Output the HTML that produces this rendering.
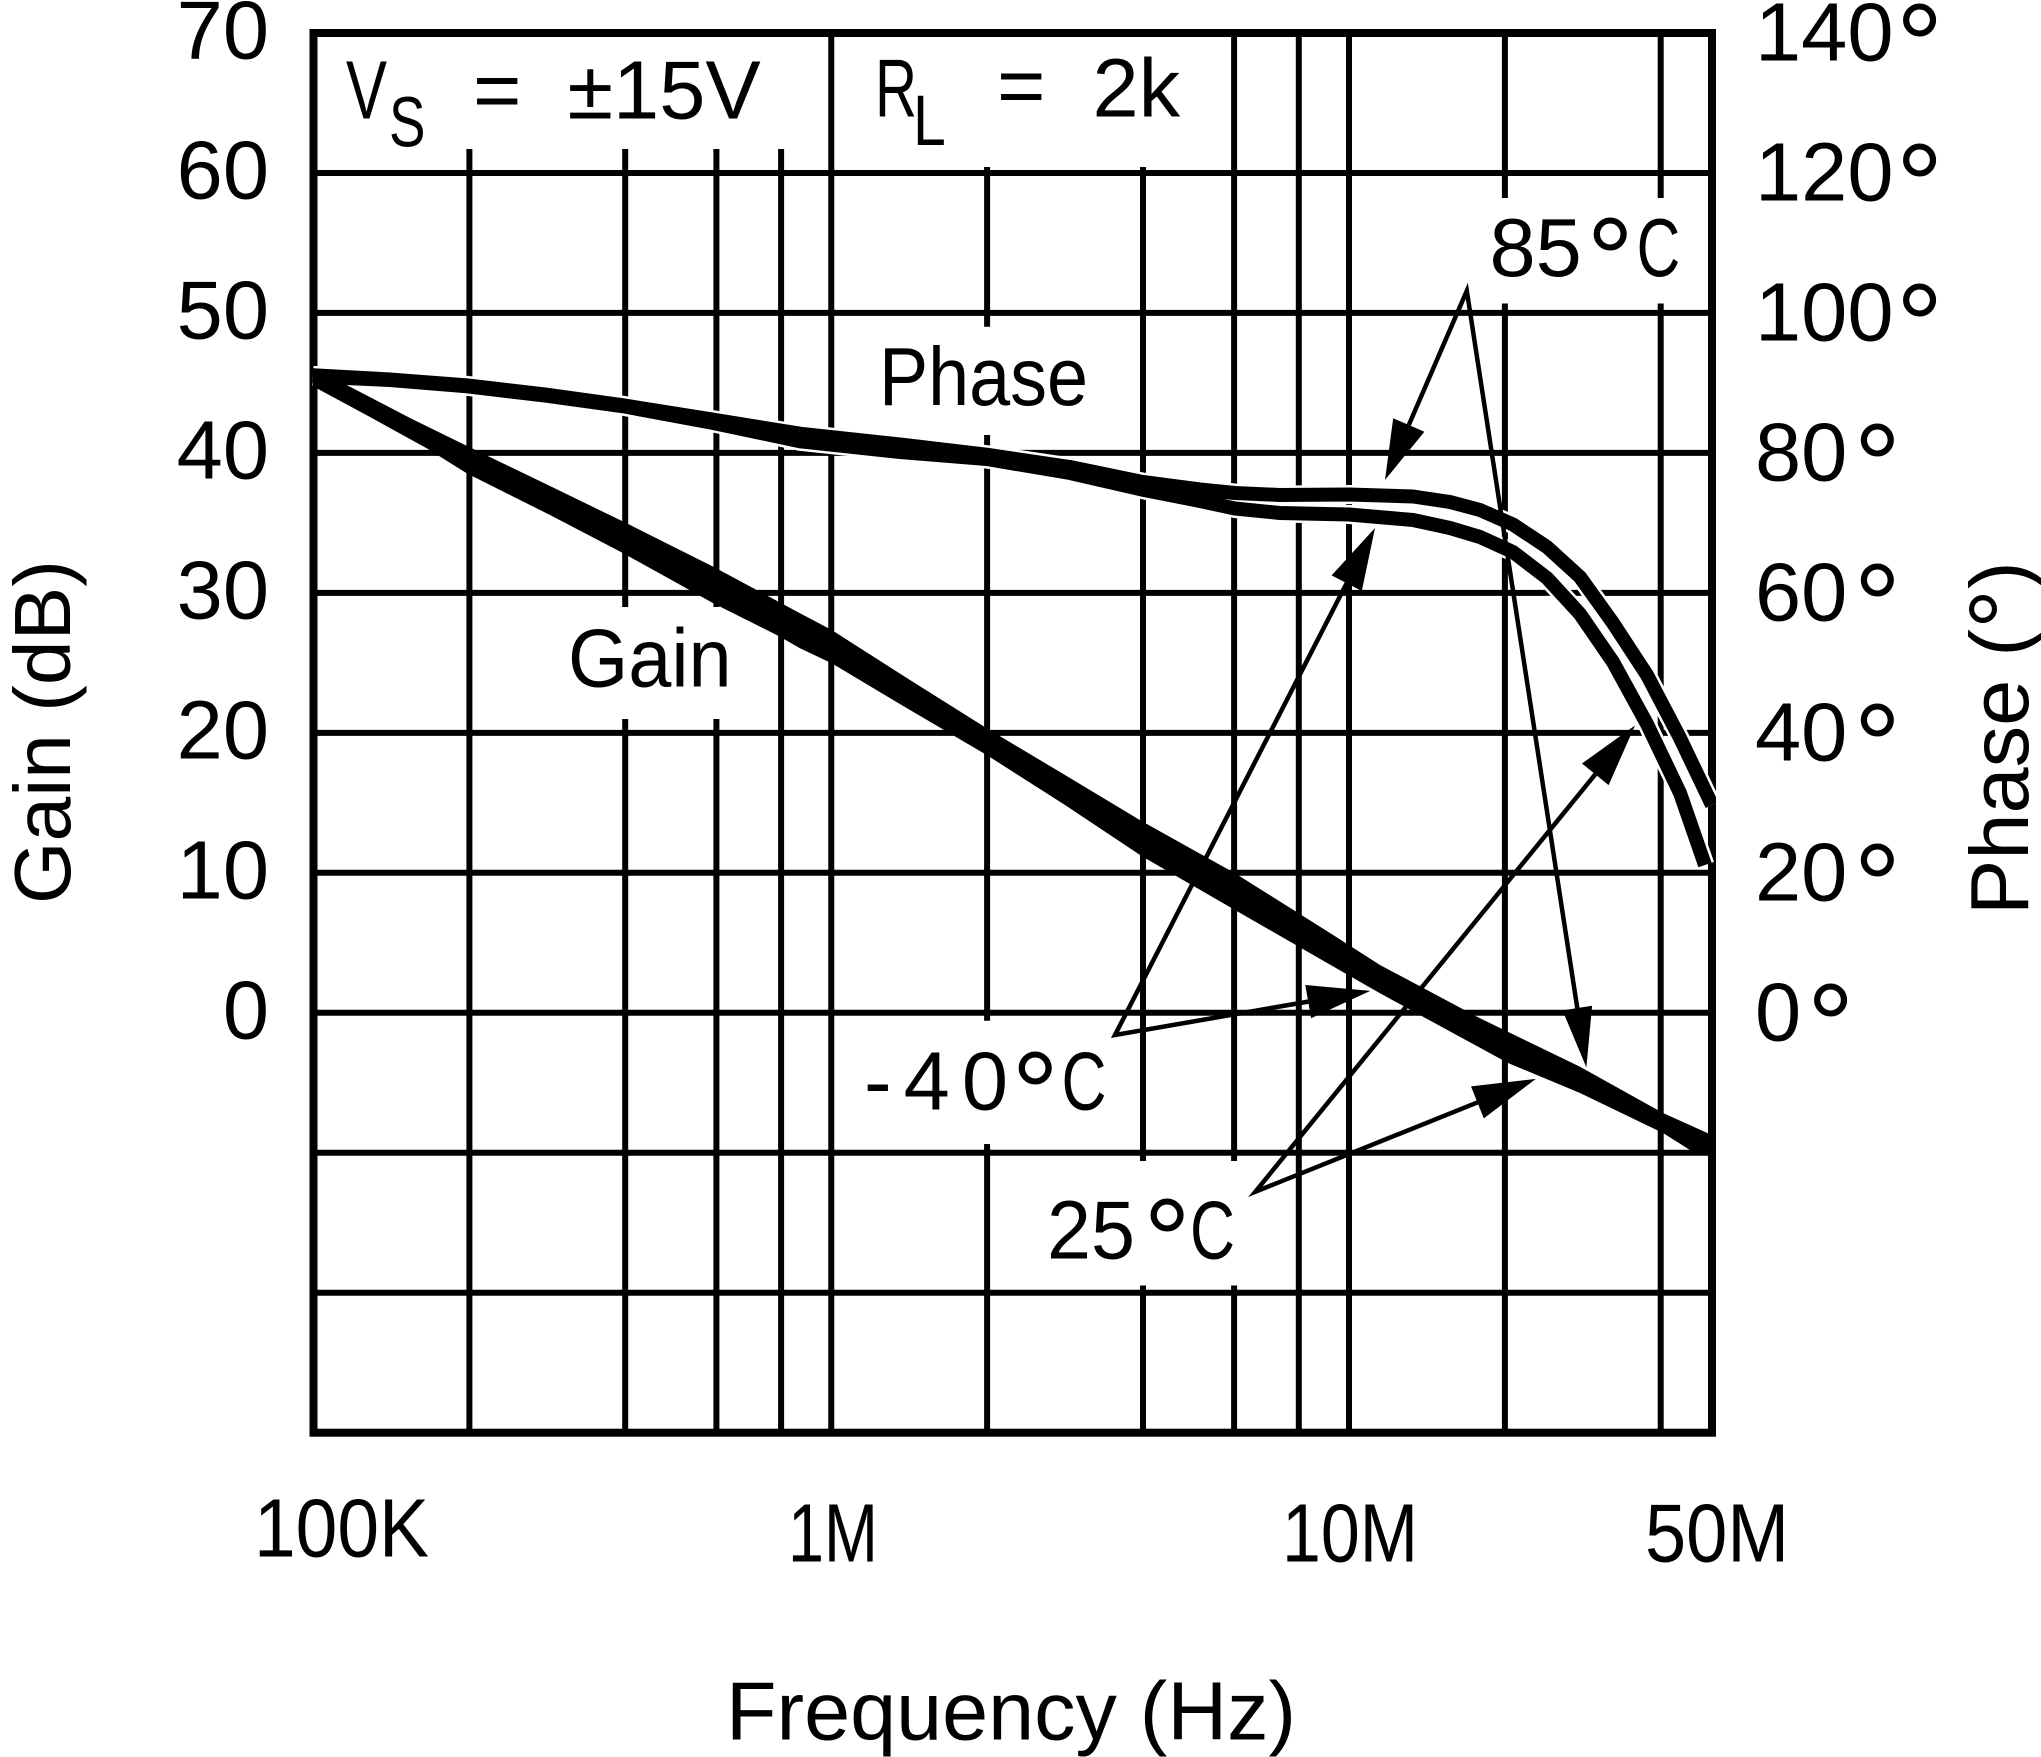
<!DOCTYPE html>
<html>
<head>
<meta charset="utf-8">
<style>
html,body{margin:0;padding:0;background:#fff;}
svg{display:block;}
text{font-family:"Liberation Sans",Arial,sans-serif;fill:#000;font-size:83px;}
</style>
</head>
<body>
<svg width="2041" height="1757" viewBox="0 0 2041 1757">
<rect x="0" y="0" width="2041" height="1757" fill="#fff"/>
<defs>
<clipPath id="plot"><rect x="310" y="29" width="1406" height="1408"/></clipPath>
</defs>

<!-- grid -->
<g stroke="#000" stroke-width="6" fill="none">
<line x1="313.5" x2="1712" y1="173" y2="173"/>
<line x1="313.5" x2="1712" y1="312.9" y2="312.9"/>
<line x1="313.5" x2="1712" y1="452.9" y2="452.9"/>
<line x1="313.5" x2="1712" y1="592.9" y2="592.9"/>
<line x1="313.5" x2="1712" y1="732.9" y2="732.9"/>
<line x1="313.5" x2="1712" y1="872.8" y2="872.8"/>
<line x1="313.5" x2="1712" y1="1012.8" y2="1012.8"/>
<line x1="313.5" x2="1712" y1="1152.8" y2="1152.8"/>
<line x1="313.5" x2="1712" y1="1292.7" y2="1292.7"/>

<line x1="469.4" x2="469.4" y1="149" y2="1433"/>
<line x1="625.2" x2="625.2" y1="149" y2="607"/>
<line x1="625.2" x2="625.2" y1="719" y2="1433"/>
<line x1="716.4" x2="716.4" y1="149" y2="607"/>
<line x1="716.4" x2="716.4" y1="719" y2="1433"/>
<line x1="781.1" x2="781.1" y1="149" y2="1433"/>
<line x1="831.25" x2="831.25" y1="33" y2="1433"/>
<line x1="987.1" x2="987.1" y1="167" y2="326.7"/>
<line x1="987.1" x2="987.1" y1="435" y2="1020.7"/>
<line x1="987.1" x2="987.1" y1="1144" y2="1433"/>
<line x1="1143" x2="1143" y1="167" y2="1161"/>
<line x1="1143" x2="1143" y1="1285.5" y2="1433"/>
<line x1="1234.1" x2="1234.1" y1="33" y2="1161"/>
<line x1="1234.1" x2="1234.1" y1="1285.5" y2="1433"/>
<line x1="1298.8" x2="1298.8" y1="33" y2="1433"/>
<line x1="1349" x2="1349" y1="33" y2="1433"/>
<line x1="1504.9" x2="1504.9" y1="33" y2="198"/>
<line x1="1504.9" x2="1504.9" y1="303.5" y2="1433"/>
<line x1="1660.7" x2="1660.7" y1="33" y2="198"/>
<line x1="1660.7" x2="1660.7" y1="303.5" y2="1433"/>
</g>
<rect x="313.5" y="33" width="1398.5" height="1399.7" fill="none" stroke="#000" stroke-width="8"/>

<!-- curves -->
<g clip-path="url(#plot)">
<g fill="none" stroke="#fff" stroke-width="19" stroke-linejoin="round">
<polyline points="313,375.3 390,379.5 466.7,385.3 545,394.5 623.3,405.3 713.3,419.7 800,433.7 900,444.5 986.7,454.7 1070,467 1142.7,482 1200,489.5 1235,493 1280,495 1349,494.5 1413,496.5 1450,502 1480,510 1513,524.5 1547,547 1580,577 1613,623 1647,675 1680,738 1712,805"/>
<polyline points="313,376.5 390,380 466.7,386.3 545,395.5 623.3,406.3 713.3,423 800,441.3 900,452 986.7,459 1070,473 1142.7,489.7 1200,501 1235,508.5 1280,513 1349,514.5 1413,520 1450,528 1480,537 1513,552 1547,578 1580,614 1613,662 1647,724 1680,793 1705,865"/>
</g>
<g fill="none" stroke="#000" stroke-width="14" stroke-linejoin="round">
<polyline points="313,375.3 390,379.5 466.7,385.3 545,394.5 623.3,405.3 713.3,419.7 800,433.7 900,444.5 986.7,454.7 1070,467 1142.7,482 1200,489.5 1235,493 1280,495 1349,494.5 1413,496.5 1450,502 1480,510 1513,524.5 1547,547 1580,577 1613,623 1647,675 1680,738 1712,805"/>
<polyline points="313,376.5 390,380 466.7,386.3 545,395.5 623.3,406.3 713.3,423 800,441.3 900,452 986.7,459 1070,473 1142.7,489.7 1200,501 1235,508.5 1280,513 1349,514.5 1413,520 1450,528 1480,537 1513,552 1547,578 1580,614 1613,662 1647,724 1680,793 1705,865"/>
</g>
<polygon fill="#000" points="313,368 350,386.7 410,418 471.7,448.3 550,486 626.7,523.3 713.3,566.7 800,613.3 831.7,630 910,680 986.7,728.3 1065,775 1142.7,821.7 1235,873.3 1330,933 1380,965 1480,1018.3 1580,1066.7 1663,1113 1714,1136 1714,1153 1690,1150 1663,1133 1580,1093 1508,1063 1380,993.3 1330,964.6 1235,910 1142.7,856.7 1065,805 986.7,755 910,710 831.7,663.3 800,648.3 780,636.7 713.3,603.3 623.3,553.3 550,515 466.7,473.3 426.7,448.3 370,417 316.7,388.3 313,386"/>
</g>

<!-- annotation arrows -->
<g fill="none" stroke="#000" stroke-width="4.5" stroke-linejoin="miter" stroke-miterlimit="10">
<polyline points="1408.8,425 1466.8,290.8 1577.3,1008.1"/>
<polyline points="1346.7,583.2 1115,1035 1308.2,1001.6"/>
<polyline points="1595.3,774.3 1255.3,1191.8 1477.4,1102.4"/>
</g>
<g fill="#000">
<polygon points="1385,480 1424.4,431.7 1393.2,418.3"/>
<polygon points="1586.4,1067.4 1592.1,1005.8 1562.5,1010.4"/>
<polygon points="1375,528 1361.8,591 1331.6,575.4"/>
<polygon points="1370.3,990.9 1311.1,1018.2 1305.3,985"/>
<polygon points="1635,725.5 1608.6,785.1 1582,763.5"/>
<polygon points="1535.9,1078.9 1483.8,1118.4 1471,1086.4"/>
</g>

<!-- in-plot text -->
<text x="346" y="118.3" textLength="41" lengthAdjust="spacingAndGlyphs">V</text>
<text x="389" y="146.7" style="font-size:71px" textLength="36.5" lengthAdjust="spacingAndGlyphs">S</text>
<text x="473" y="118.3">=</text>
<text x="567.5" y="118.3">±15V</text>
<text x="875" y="116.7" textLength="42" lengthAdjust="spacingAndGlyphs">R</text>
<text x="913" y="145" style="font-size:71px" textLength="32.8" lengthAdjust="spacingAndGlyphs">L</text>
<text x="997" y="114">=</text>
<text x="1092.5" y="116.7">2k</text>
<text x="879" y="405" textLength="209" lengthAdjust="spacingAndGlyphs">Phase</text>
<text x="568" y="686.7" textLength="163.6" lengthAdjust="spacingAndGlyphs">Gain</text>

<text x="1489.5" y="276">85</text>
<text x="1586.6" y="300" style="font-size:118px">°</text>
<text x="1636.6" y="276" textLength="43.6" lengthAdjust="spacingAndGlyphs">C</text>

<text x="864" y="1109.5" textLength="144" lengthAdjust="spacing">-40</text>
<text x="1011.6" y="1134" style="font-size:118px">°</text>
<text x="1061.5" y="1109.5" textLength="45" lengthAdjust="spacingAndGlyphs">C</text>

<text x="1047" y="1258.7" textLength="88" lengthAdjust="spacingAndGlyphs">25</text>
<text x="1143.5" y="1281" style="font-size:118px">°</text>
<text x="1190" y="1258.7" textLength="45" lengthAdjust="spacingAndGlyphs">C</text>

<!-- left axis labels -->
<g text-anchor="end">
<text x="269" y="58.5">70</text>
<text x="269" y="198.5">60</text>
<text x="269" y="338.4">50</text>
<text x="269" y="478.4">40</text>
<text x="269" y="618.4">30</text>
<text x="269" y="758.4">20</text>
<text x="269" y="898.3">10</text>
<text x="269" y="1038.3">0</text>
</g>

<!-- right axis labels -->
<text x="1755" y="60.5">140</text>
<text x="1755" y="200.5">120</text>
<text x="1755" y="340.4">100</text>
<text x="1755" y="480.4">80</text>
<text x="1755" y="620.4">60</text>
<text x="1755" y="760.4">40</text>
<text x="1755" y="900.3">20</text>
<text x="1755" y="1040.3">0</text>
<text x="1896" y="86" style="font-size:118px">°</text>
<text x="1896" y="226" style="font-size:118px">°</text>
<text x="1896" y="365.9" style="font-size:118px">°</text>
<text x="1853.7" y="505.9" style="font-size:118px">°</text>
<text x="1853.7" y="645.9" style="font-size:118px">°</text>
<text x="1853.7" y="785.9" style="font-size:118px">°</text>
<text x="1853.7" y="925.8" style="font-size:118px">°</text>
<text x="1807" y="1065.8" style="font-size:118px">°</text>

<!-- axis titles -->
<text transform="translate(70,904) rotate(-90)" style="font-size:80px" textLength="344" lengthAdjust="spacingAndGlyphs">Gain (dB)</text>
<text transform="translate(2028,915) rotate(-90)">Phase (<tspan style="font-size:100px" dy="11">°</tspan><tspan dy="-11">)</tspan></text>

<!-- bottom labels -->
<text x="254" y="1556.7" textLength="175" lengthAdjust="spacingAndGlyphs">100K</text>
<text x="788" y="1561.7" textLength="90" lengthAdjust="spacingAndGlyphs">1M</text>
<text x="1282" y="1561.7" textLength="136" lengthAdjust="spacingAndGlyphs">10M</text>
<text x="1645" y="1561.7" textLength="144" lengthAdjust="spacingAndGlyphs">50M</text>
<text x="726" y="1739.3" textLength="570" lengthAdjust="spacingAndGlyphs">Frequency (Hz)</text>
</svg>
</body>
</html>
